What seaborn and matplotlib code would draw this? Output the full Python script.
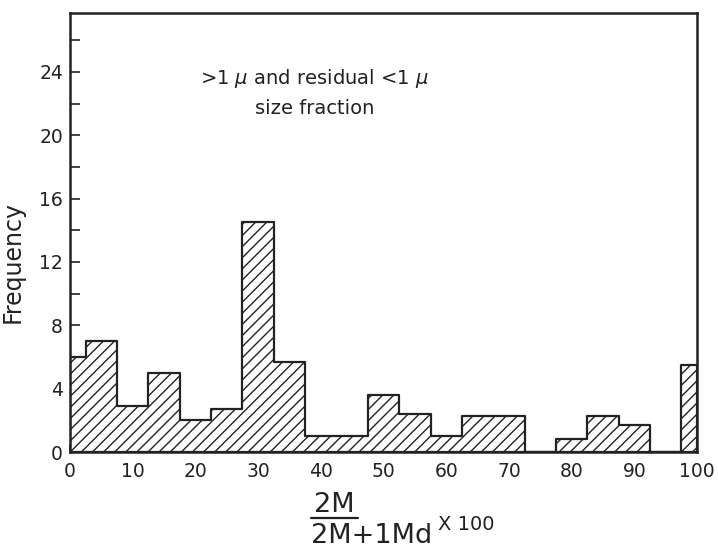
import matplotlib
matplotlib.use("Agg")
import matplotlib.pyplot as plt
import seaborn as sns
import pandas as pd
from matplotlib.ticker import MultipleLocator, FixedLocator
from matplotlib.lines import Line2D

# ---- data ----
bin_centers = [0, 5, 10, 15, 20, 25, 30, 35, 40, 45, 50,
               55, 60, 65, 70, 75, 80, 85, 90, 95, 100]
frequencies = [6, 7, 2.9, 5, 2, 2.7, 14.5, 5.7, 1, 1, 3.6,
               2.4, 1, 2.3, 2.3, 0, 0.8, 2.3, 1.7, 0, 5.5]
bin_edges = [0, 2.5, 7.5, 12.5, 17.5, 22.5, 27.5, 32.5, 37.5, 42.5, 47.5,
             52.5, 57.5, 62.5, 67.5, 72.5, 77.5, 82.5, 87.5, 92.5, 97.5, 100]
x_ticks = [0, 10, 20, 30, 40, 50, 60, 70, 80, 90, 100]
y_ticks = [0, 4, 8, 12, 16, 20, 24]

df = pd.DataFrame({"ratio": bin_centers, "freq": frequencies})

sns.set_theme(style="ticks")
plt.rcParams["font.family"] = ["DejaVu Sans"]
plt.rcParams["mathtext.fontset"] = "dejavusans"
plt.rcParams["hatch.linewidth"] = 1.0
plt.rcParams["hatch.color"] = "#222222"

INK = "#222222"
fig = plt.figure(figsize=(7.18, 5.52), dpi=100)
ax = fig.add_axes([0.0975, 0.181, 0.8735, 0.795])

sns.histplot(data=df, x="ratio", weights="freq", bins=bin_edges,
             element="step", fill=True, ax=ax, color=INK,
             alpha=1, linewidth=1.6)

for coll in ax.collections:
    coll.set_facecolor("white")
    coll.set_edgecolor(INK)
    coll.set_hatch("///")
    coll.set_linewidth(1.6)

ax.set_xlim(0, 100)
ax.set_ylim(0, 27.7)
ax.xaxis.set_major_locator(FixedLocator(x_ticks))
ax.yaxis.set_major_locator(FixedLocator(y_ticks))
ax.yaxis.set_minor_locator(MultipleLocator(2))
ax.tick_params(axis="both", which="both", direction="in", colors=INK,
               labelcolor=INK, labelsize=13.5)
ax.tick_params(axis="y", which="major", length=7, width=1.2, pad=5)
ax.tick_params(axis="y", which="minor", length=7, width=1.2)
ax.tick_params(axis="x", which="major", length=5, width=1.2, pad=7)

for sp in ax.spines.values():
    sp.set_visible(True)
    sp.set_linewidth(1.8)
    sp.set_color(INK)

ax.set_xlabel("")
ax.set_ylabel("Frequency", fontsize=17, color=INK)
ax.yaxis.set_label_coords(-0.072, 0.433)

ax.text(39, 22.7, r">1 $\mathit{\mu}$ and residual <1 $\mathit{\mu}$" + "\nsize fraction",
        ha="center", va="center", fontsize=14, color=INK,
        linespacing=1.55)

# x-axis label: "2M" underlined over "2M+1Md", followed by "X 100"
W, H = 718.0, 552.0
fig.text(314 / W, 1 - 505 / H, "2M", ha="left", va="center",
         fontsize=19.5, color=INK)
fig.add_artist(Line2D([311 / W, 358 / W], [1 - 518 / H, 1 - 518 / H],
                      transform=fig.transFigure, color=INK, linewidth=1.6))
fig.text(311 / W, 1 - 536 / H, "2M+1Md", ha="left", va="center",
         fontsize=19.5, color=INK)
fig.text(438 / W, 1 - 524 / H, "X 100", ha="left", va="center",
         fontsize=14, color=INK)

fig.savefig("out.png", dpi=100)
